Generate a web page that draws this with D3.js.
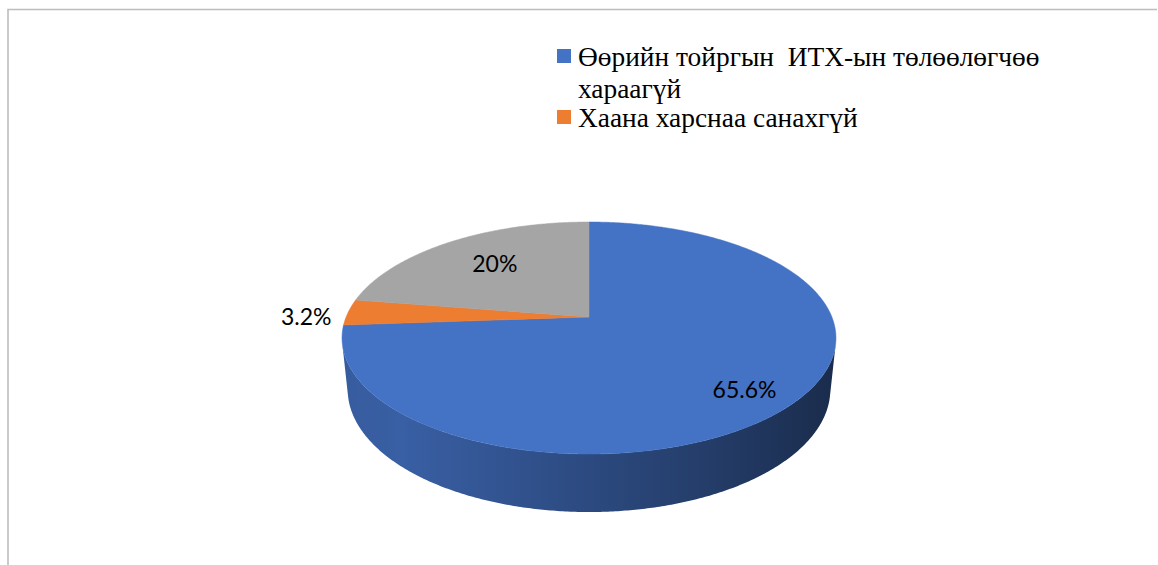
<!DOCTYPE html>
<html><head><meta charset="utf-8">
<script src="https://cdn.jsdelivr.net/npm/d3@7"></script>
<style>html,body{margin:0;padding:0;background:#fff;overflow:hidden}
.legend text{font-family:"Liberation Serif","Times New Roman",serif;font-size:27.4px;white-space:pre}
.lbl{font-family:Lato,"Open Sans",sans-serif;font-size:23px}
</style>
</head><body><svg id="chart" width="1158" height="565"></svg>
<script>
// ---- data ----
const categories = ["Өөрийн тойргын  ИТХ-ын төлөөлөгчөө хараагүй", "Хаана харснаа санахгүй", "Бусад"];
const values = [65.6, 3.2, 20];
const valueLabels = ["65.6%", "3.2%", "20%"];
const colors = ["#4472C4", "#ED7D31", "#A5A5A5"];
const legendShown = 2; // legend in the reference shows the first two entries only

// ---- layout ----
const W = 1158, H = 565;
const svg = d3.select("#chart");

svg.append("path")
  .attr("d", `M8,${H} L8,9.5 L1157,9.5`)
  .attr("fill", "none").attr("stroke", "#bdbdbd").attr("stroke-width", 1.6);

// perspective projection of a tilted disk
const cx = 589, cy = 317, S = 242.9, Dist = 4.9, sinP = 0.462, cosP = 0.887, depth = 0.241;
function proj(a, Y, rho) {
  rho = rho === undefined ? 1 : rho;
  const X = rho * Math.sin(a), Z = rho * Math.cos(a);
  const w = Dist + Z * cosP - Y * sinP;
  const u = Z * sinP + Y * cosP;
  return [cx + S * Dist * X / w, cy - S * Dist * u / w];
}
function arcPts(a0, a1, Y) {
  const n = Math.max(2, Math.ceil(Math.abs(a1 - a0) / (Math.PI / 360)));
  const pts = [];
  for (let i = 0; i <= n; i++) pts.push(proj(a0 + (a1 - a0) * i / n, Y));
  return pts;
}

const arcs = d3.pie().sort(null).value(d => d)(values);
const line = d3.line();

// side walls (front visible part)
const aMin = Math.acos(-1 / (Dist * cosP)), aMax = 2 * Math.PI - aMin;
const leftX = proj(aMax, 0)[0], rightX = proj(aMin, 0)[0];
const defs = svg.append("defs");
const shadeStops = [[0, 0.6], [0.12, 0.5], [0.5, 1.2], [0.75, 1.78], [1, 2.65]];
arcs.forEach((d, i) => {
  const g = defs.append("linearGradient").attr("id", "side" + i)
    .attr("gradientUnits", "userSpaceOnUse")
    .attr("x1", leftX).attr("x2", rightX).attr("y1", 0).attr("y2", 0);
  shadeStops.forEach(s => g.append("stop").attr("offset", s[0])
    .attr("stop-color", d3.color(colors[i]).darker(s[1]).formatHex()));
});
arcs.forEach((d, i) => {
  const s = Math.max(d.startAngle, aMin), e = Math.min(d.endAngle, aMax);
  if (e <= s) return;
  const pts = arcPts(s, e, 0).concat(arcPts(e, s, -depth));
  svg.append("path").attr("d", line(pts) + "Z").attr("fill", `url(#side${i})`);
});

// top faces
arcs.forEach((d, i) => {
  const pts = [proj(0, 0, 0)].concat(arcPts(d.startAngle, d.endAngle, 0));
  svg.append("path").attr("d", line(pts) + "Z").attr("fill", colors[i])
    .attr("stroke", colors[i]).attr("stroke-width", 0.5);
});

// data labels
const labelRho = [0.79, 1.07, 0.65];
const labelAnchor = ["middle", "end", "middle"];
const labelDy = [5, 4, -3];
arcs.forEach((d, i) => {
  const m = (d.startAngle + d.endAngle) / 2;
  const p = proj(m, 0, labelRho[i]);
  svg.append("text").attr("class", "lbl").attr("x", p[0]).attr("y", p[1] + labelDy[i])
    .attr("text-anchor", labelAnchor[i]).attr("dominant-baseline", "central")
    .attr("fill", "#000").text(valueLabels[i]);
});

// legend
const lg = svg.append("g").attr("class", "legend").attr("fill", "#000");
let by = 66;
const maxW = 500, lineH = 32;
categories.slice(0, legendShown).forEach((name, i) => {
  lg.append("rect").attr("x", 557).attr("y", by - 17).attr("width", 14).attr("height", 14).attr("fill", colors[i]);
  const t = lg.append("text").attr("x", 578).attr("y", by);
  const words = name.split(" ");
  let cur = [], lines = [];
  const probe = lg.append("text");
  words.forEach(w => {
    const test = cur.concat([w]).join(" ");
    probe.text(test);
    if (probe.node().getComputedTextLength() > maxW && cur.length) { lines.push(cur.join(" ")); cur = [w]; }
    else cur.push(w);
  });
  lines.push(cur.join(" "));
  probe.remove();
  lines.forEach((l, k) => t.append("tspan").attr("x", 578).attr("y", by + k * lineH).text(l));
  by += lines.length * lineH - 3;
});
</script></body></html>
